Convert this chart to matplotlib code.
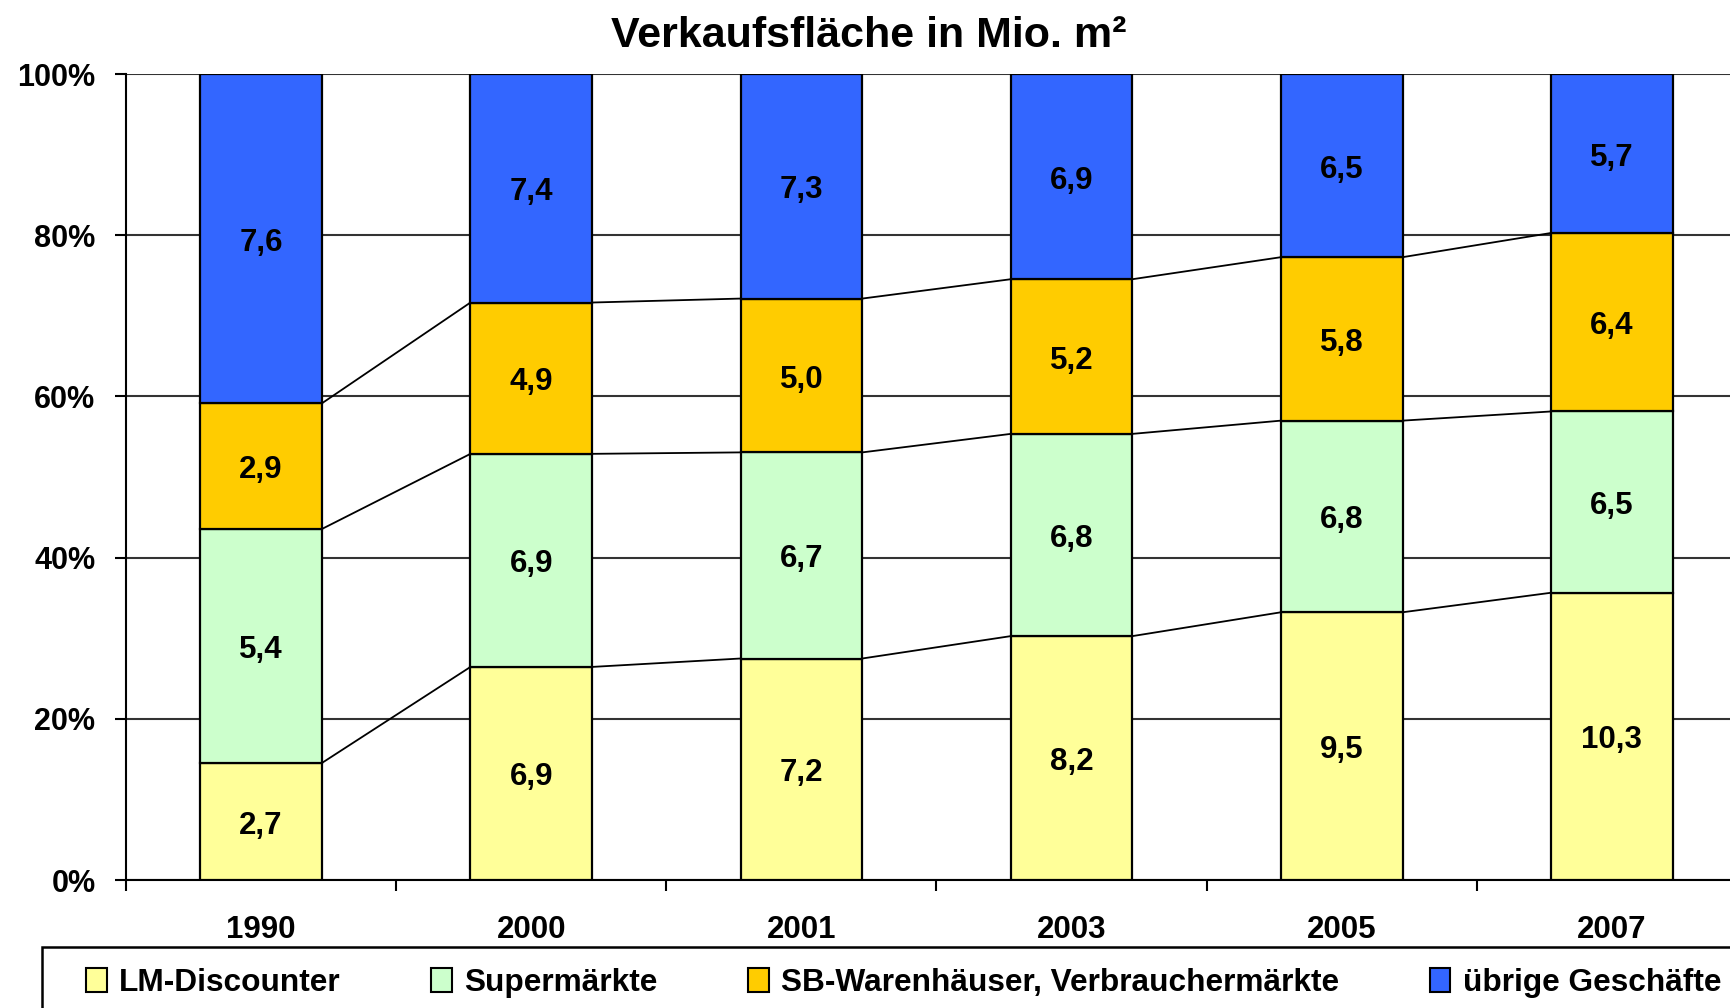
import matplotlib; matplotlib.use("Agg")
import matplotlib.pyplot as plt
from matplotlib.patches import Patch, Rectangle
import numpy as np

plt.rcParams["font.family"] = ["Liberation Sans", "DejaVu Sans"]
plt.rcParams["font.weight"] = "bold"

# ---- Daten ----
jahre = ["1990", "2000", "2001", "2003", "2005", "2007"]
serien = ["LM-Discounter", "Supermärkte", "SB-Warenhäuser, Verbrauchermärkte", "übrige Geschäfte"]
lm_discounter = [2.7, 6.9, 7.2, 8.2, 9.5, 10.3]
supermaerkte = [5.4, 6.9, 6.7, 6.8, 6.8, 6.5]
sb_warenhaeuser = [2.9, 4.9, 5.0, 5.2, 5.8, 6.4]
uebrige = [7.6, 7.4, 7.3, 6.9, 6.5, 5.7]
farben = ["#FFFF99", "#CCFFCC", "#FFCC00", "#3366FF"]

werte = np.array([lm_discounter, supermaerkte, sb_warenhaeuser, uebrige])
anteile = werte / werte.sum(axis=0) * 100
x = np.arange(len(jahre))
BREITE = 0.45

fig = plt.figure(figsize=(17.31, 10.08), dpi=100)
ax = fig.add_axes([126 / 1731, 1 - 880 / 1008, (1747 - 126) / 1731, (880 - 74) / 1008])

unten = np.zeros(len(jahre))
for i, (name, farbe) in enumerate(zip(serien, farben)):
    ax.bar(x, anteile[i], BREITE, bottom=unten, color=farbe, edgecolor="black",
           lw=1.6, zorder=3, label=name)
    for xi, b, h, v in zip(x, unten, anteile[i], werte[i]):
        ax.text(xi, b + h / 2 - 0.5, f"{v:.1f}".replace(".", ","), ha="center", va="center",
                fontsize=22.5, fontweight="bold", zorder=4)
    unten = unten + anteile[i]
    # Verbindungslinien zwischen den Säulen
    if i < len(serien) - 1:
        for j in range(len(jahre) - 1):
            ax.plot([x[j] + BREITE / 2, x[j + 1] - BREITE / 2], [unten[j], unten[j + 1]],
                    color="black", lw=1.3, zorder=2)

ax.set_xlim(-0.5, len(jahre) - 0.5)
ax.set_ylim(0, 100)
ax.set_yticks(np.arange(0, 101, 20))
ax.set_yticklabels([f"{v}%" for v in range(0, 101, 20)], fontsize=22, fontweight="bold")
ax.set_xticks(x)
ax.set_xticklabels(jahre, fontsize=22.5, fontweight="bold")
ax.set_xticks(np.arange(-0.5, len(jahre)), minor=True)
ax.tick_params(axis="x", which="major", length=0, pad=25)
ax.tick_params(axis="x", which="minor", length=8, width=1.5, direction="out")
ax.tick_params(axis="y", length=8, width=1.5, direction="out", pad=14)
ax.grid(axis="y", color="#333333", lw=1.5, zorder=1)
ax.set_axisbelow(True)
for s in ["top", "right"]:
    ax.spines[s].set_visible(False)
ax.spines["left"].set_linewidth(1.5)
ax.spines["bottom"].set_linewidth(1.5)

fig.text(869 / 1731, 1 - 36 / 1008, "Verkaufsfläche in Mio. m²", ha="center", va="center",
         fontsize=31, fontweight="bold")

# Legende: Rahmen läuft über den Bildrand hinaus
fig.patches.append(Rectangle((42 / 1731, -0.1), 1.1, 0.1 + (1008 - 947) / 1008,
                             transform=fig.transFigure, fill=False, ec="black", lw=1.8))
griffe = [Patch(facecolor=f, edgecolor="black", lw=1.5) for f in farben]
fig.legend(griffe, serien, loc="center left", bbox_to_anchor=(86 / 1731, 1 - 983 / 1008),
           ncol=4, frameon=False, prop={"weight": "bold", "size": 22.8},
           handlelength=0.65, handleheight=0.75, handletextpad=0.4, columnspacing=2.85,
           borderaxespad=0, borderpad=0)

fig.savefig("out.png", dpi=100)
